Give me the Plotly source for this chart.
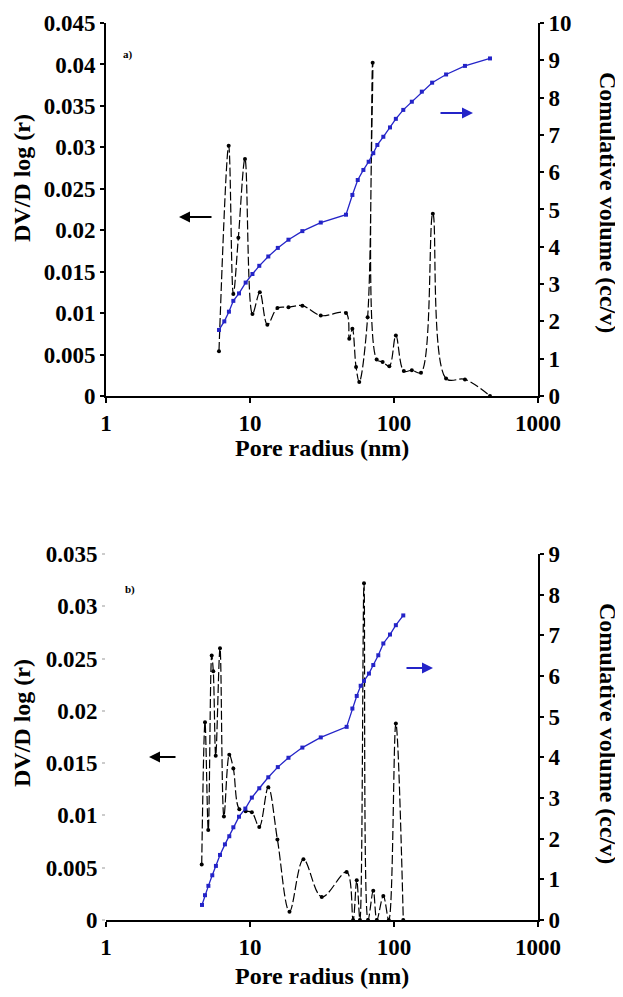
import plotly.graph_objects as go

# a) pore size distribution (left axis) and cumulative volume (right axis)
radius_a_psd = [6.09, 7.11, 7.66, 8.3, 9.23, 10.4, 11.7, 13.2, 15.5, 18.5, 23.1, 31.0, 46.4,
                48.9, 51.4, 54.5, 57.4, 65.6, 71.1, 75.8, 83.4, 92.8, 103, 117, 133, 154,
                186, 230, 311, 464]
dv_a = [0.0054, 0.0302, 0.0123, 0.0191, 0.0286, 0.0099, 0.0125, 0.0086, 0.0106, 0.0107,
        0.0109, 0.0097, 0.0100, 0.0069, 0.0081, 0.0035, 0.0017, 0.0095, 0.0402, 0.0044,
        0.0041, 0.0036, 0.0073, 0.0030, 0.0031, 0.0028, 0.0220, 0.0021, 0.0020, 0.0]

radius_a_cum = [6.09, 6.63, 7.14, 7.66, 8.39, 9.33, 10.4, 11.6, 13.4, 15.6, 18.5, 23.1, 31.0,
                46.4, 51.4, 56.0, 61.3, 66.7, 71.8, 76.6, 84.3, 93.8, 103, 116, 133, 156,
                184, 230, 311, 464]
cum_a = [1.77, 2.0, 2.26, 2.55, 2.75, 3.04, 3.27, 3.49, 3.74, 3.97, 4.19, 4.42, 4.65, 4.86,
         5.39, 5.79, 6.06, 6.28, 6.51, 6.73, 6.95, 7.20, 7.43, 7.67, 7.89, 8.16, 8.40, 8.62,
         8.85, 9.05]

# b)
radius_b_psd = [4.62, 4.87, 5.13, 5.42, 5.56, 5.78, 6.19, 6.59, 7.18, 7.66, 8.43, 9.33, 10.3,
                11.6, 13.4, 15.5, 18.8, 23.5, 31.5, 46.9, 52.0, 55.1, 58.0, 61.9, 66.0, 71.8,
                76.0, 84.3, 92.0, 103, 116]
dv_b = [0.0053, 0.0189, 0.0086, 0.0253, 0.0238, 0.0157, 0.0260, 0.0099, 0.0158, 0.0145,
        0.0106, 0.0104, 0.0103, 0.0089, 0.0127, 0.0077, 0.0008, 0.0058, 0.0022, 0.0046,
        0.0, 0.0038, 0.0, 0.0322, 0.0, 0.0028, 0.0, 0.0023, 0.0, 0.0188, 0.0]

radius_b_cum = [4.64, 4.87, 5.14, 5.47, 5.80, 6.19, 6.70, 7.18, 7.66, 8.39, 9.28, 10.3, 11.6,
                13.4, 15.6, 18.5, 23.1, 31.0, 46.9, 51.4, 55.1, 58.7, 61.9, 67.0, 71.8, 77.8,
                84.3, 93.8, 103, 116]
cum_b = [0.37, 0.61, 0.84, 1.10, 1.33, 1.60, 1.86, 2.06, 2.28, 2.54, 2.74, 3.01, 3.24, 3.51,
         3.76, 3.99, 4.24, 4.49, 4.75, 5.20, 5.51, 5.76, 5.88, 6.06, 6.27, 6.51, 6.80, 7.02,
         7.25, 7.49]

x_ticks = [1, 10, 100, 1000]
x_ticktext = ["1", "10", "100", "1000"]
ya_ticks = [0, 0.005, 0.01, 0.015, 0.02, 0.025, 0.03, 0.035, 0.04, 0.045]
ya_ticktext = ["0", "0.005", "0.01", "0.015", "0.02", "0.025", "0.03", "0.035", "0.04", "0.045"]
yb_ticks = [0, 0.005, 0.01, 0.015, 0.02, 0.025, 0.03, 0.035]
yb_ticktext = ["0", "0.005", "0.01", "0.015", "0.02", "0.025", "0.03", "0.035"]

serif = "Liberation Serif"
tick_font = dict(family=serif, size=23, color="black", weight="bold")
title_font = dict(family=serif, size=24, color="black", weight="bold")
BLUE = "#2424c8"

fig = go.Figure()

def psd_trace(x, y, xa, ya):
    return go.Scatter(x=x, y=y, xaxis=xa, yaxis=ya, mode="lines+markers",
                      line=dict(color="black", width=1.2, shape="spline", smoothing=1, dash="9px,3px"),
                      marker=dict(color="black", size=4), showlegend=False)

def cum_trace(x, y, xa, ya):
    return go.Scatter(x=x, y=y, xaxis=xa, yaxis=ya, mode="lines+markers",
                      line=dict(color=BLUE, width=1.3),
                      marker=dict(color=BLUE, size=4, symbol="square"), showlegend=False)

fig.add_trace(psd_trace(radius_a_psd, dv_a, "x", "y"))
fig.add_trace(cum_trace(radius_a_cum, cum_a, "x", "y2"))
fig.add_trace(psd_trace(radius_b_psd, dv_b, "x2", "y3"))
fig.add_trace(cum_trace(radius_b_cum, cum_b, "x2", "y4"))

top = [0.5842, 1.0]
bot = [0.0, 0.408]

xcommon = dict(type="log", range=[0, 3], tickvals=x_ticks, ticktext=x_ticktext, showline=True,
               linecolor="black", linewidth=2, ticks="outside", ticklen=5, tickwidth=1.5,
               tickcolor="black", showgrid=False, zeroline=False, tickfont=tick_font,
               automargin=False)
ycommon = dict(showline=True, linecolor="black", linewidth=2, ticks="outside", ticklen=4,
               tickwidth=1.5, tickcolor="black", showgrid=False, zeroline=False, tickfont=tick_font,
               automargin=False)

# the page adds an 8px body margin, so the figure is 8px smaller than the window
fig.update_layout(
    width=615, height=989, autosize=False,
    margin=dict(l=98, r=85, t=15, b=77, pad=0),
    plot_bgcolor="white", paper_bgcolor="white",
    xaxis=dict(domain=[0, 1], anchor="y", **xcommon),
    yaxis=dict(domain=top, anchor="x", range=[0, 0.045], tickvals=ya_ticks, ticktext=ya_ticktext, **ycommon),
    yaxis2=dict(overlaying="y", anchor="x", side="right", range=[0, 10], dtick=1, **ycommon),
    xaxis2=dict(domain=[0, 1], anchor="y3", **xcommon),
    yaxis3=dict(domain=bot, anchor="x2", range=[0, 0.035], tickvals=yb_ticks, ticktext=yb_ticktext,
                **{**ycommon, "showline": False, "tickcolor": "#cccccc", "ticklen": 3}),
    yaxis4=dict(overlaying="y3", anchor="x2", side="right", range=[0, 9], dtick=1, **ycommon),
)

def txt(x, y, s, font, angle=0):
    fig.add_annotation(x=x, y=y, xref="paper", yref="paper", text=s, showarrow=False,
                       textangle=angle, font=font, xanchor="center", yanchor="middle")

# page pixel positions -> paper coords
def px(xp):
    return (xp - 106) / 432

def py(yp):
    return (920 - yp) / 897

txt(px(22), py(178), "DV/D log (r)", title_font, -90)
txt(px(608), py(202), "Comulative volume (cc/v)", title_font, 90)
txt(px(322), py(448), "Pore radius (nm)", title_font)
txt(px(22), py(723), "DV/D log (r)", title_font, -90)
txt(px(608), py(733), "Comulative volume (cc/v)", title_font, 90)
txt(px(322), py(976), "Pore radius (nm)", title_font)

small = dict(family=serif, size=11, color="black", weight="bold")
txt(px(128), py(54), "a)", small)
txt(px(130), py(589), "b)", small)

def arrow(xh, yh, dx, color):
    fig.add_annotation(x=px(xh), y=py(yh), xref="paper", yref="paper", ax=dx, ay=0, text="",
                       showarrow=True, arrowhead=2, arrowsize=1, arrowwidth=2.2, arrowcolor=color)

arrow(179, 217, 34, "black")
arrow(473, 113, -34, BLUE)
arrow(149, 757, 28, "black")
arrow(433, 668, -28, BLUE)

fig.write_html("out.html")
